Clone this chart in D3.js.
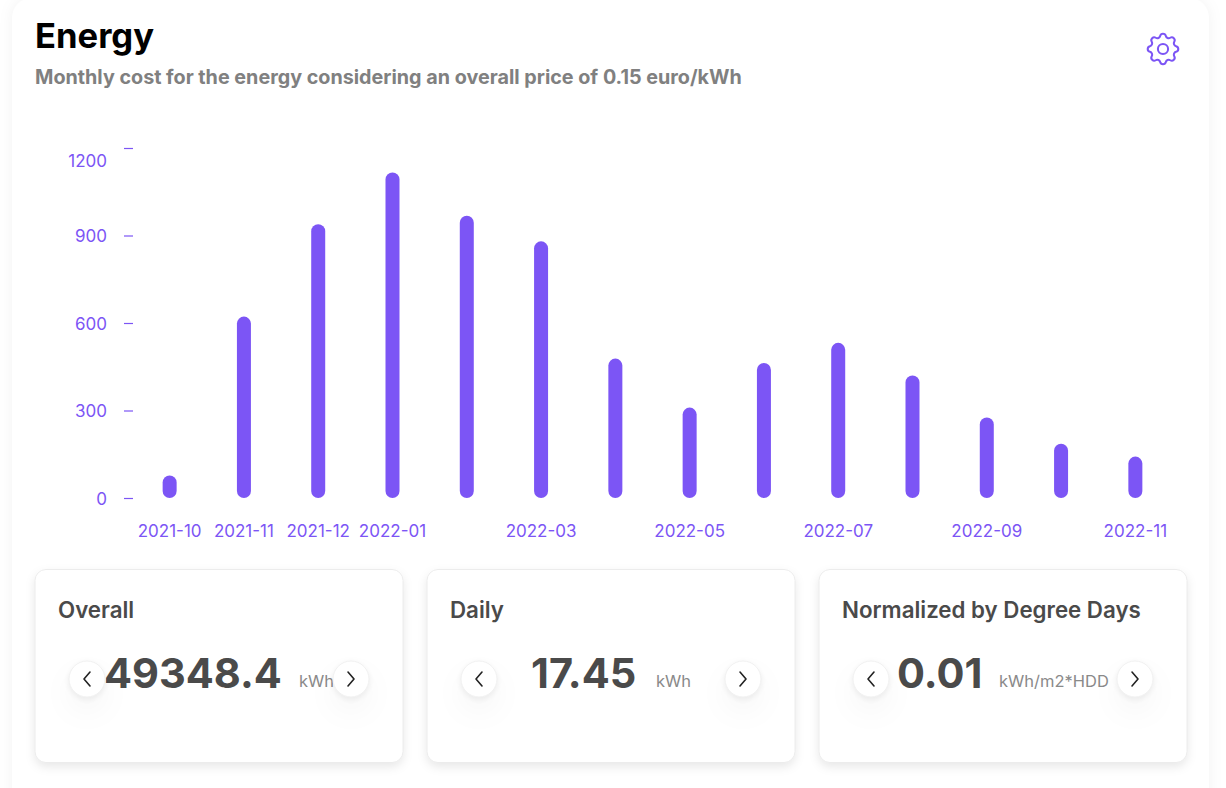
<!DOCTYPE html>
<html>
<head>
<meta charset="utf-8">
<script src="https://cdn.jsdelivr.net/npm/d3@7"></script>
<style>
  html, body { margin: 0; padding: 0; background: #fff; overflow: hidden; }
  text { font-family: Inter, "Noto Sans", sans-serif; }
  .panel { filter: drop-shadow(0 0 7px rgba(0,0,0,.05)); }
  .card { filter: drop-shadow(0 4px 5px rgba(0,0,0,.09)); }
  .nav { filter: drop-shadow(0 2px 3px rgba(0,0,0,.07)) drop-shadow(0 14px 14px rgba(0,0,0,.035)); }
  .axis text { fill: #7c55f5; font-size: 17px; }
  .axis line { stroke: #7c55f5; stroke-width: 1.2; }
  .axis path { display: none; }
</style>
</head>
<body>
<div id="chart"></div>
<script>
// values
var months = ["2021-10","2021-11","2021-12","2022-01","2022-02","2022-03","2022-04",
              "2022-05","2022-06","2022-07","2022-08","2022-09","2022-10","2022-11"];
var costs = [77, 622, 939, 1116, 968, 880, 478, 310, 463, 532, 420, 276, 186, 142];
var xTickLabels = ["2021-10","2021-11","2021-12","2022-01","2022-03","2022-05","2022-07","2022-09","2022-11"];
var yTickLabels = [0, 300, 600, 900, 1200];

var cardTitles = ["Overall", "Daily", "Normalized by Degree Days"];
var cardValues = ["49348.4", "17.45", "0.01"];
var cardUnits = ["kWh", "kWh", "kWh/m2*HDD"];

var purple = "#7c55f5";

var svg = d3.select("#chart").append("svg")
    .attr("width", 1226)
    .attr("height", 788)
    .style("display", "block");

// big white panel, runs off the bottom
svg.append("rect")
    .attr("class", "panel")
    .attr("x", 12).attr("y", -2)
    .attr("width", 1197).attr("height", 860)
    .attr("rx", 20)
    .attr("fill", "#fff");

svg.append("text")
    .attr("x", 35).attr("y", 48)
    .attr("font-size", 34.6).attr("font-weight", 700)
    .attr("fill", "#000")
    .text("Energy");

svg.append("text")
    .attr("x", 35).attr("y", 84)
    .attr("font-size", 19.74).attr("font-weight", 700)
    .attr("fill", "#808080")
    .text("Monthly cost for the energy considering an overall price of 0.15 euro/kWh");

// settings gear
var gear = svg.append("g")
    .attr("transform", "translate(1163,49) scale(1.7) translate(-12,-12)")
    .attr("fill", "none")
    .attr("stroke", purple)
    .attr("stroke-width", 1.2)
    .attr("stroke-linecap", "round")
    .attr("stroke-linejoin", "round");
gear.append("path")
    .attr("d", "M10.325 4.317c.426-1.756 2.924-1.756 3.35 0a1.724 1.724 0 002.573 1.066c1.543-.94 3.31.826 2.37 2.37a1.724 1.724 0 001.065 2.572c1.756.426 1.756 2.924 0 3.35a1.724 1.724 0 00-1.066 2.573c.94 1.543-.826 3.31-2.37 2.37a1.724 1.724 0 00-2.572 1.065c-.426 1.756-2.924 1.756-3.35 0a1.724 1.724 0 00-2.573-1.066c-1.543.94-3.31-.826-2.37-2.37a1.724 1.724 0 00-1.065-2.572c-1.756-.426-1.756-2.924 0-3.35a1.724 1.724 0 001.066-2.573c-.94-1.543.826-3.31 2.37-2.37.996.608 2.296.07 2.572-1.065z");
gear.append("circle").attr("cx", 12).attr("cy", 12).attr("r", 3);

// scales
var xScale = d3.scaleBand().domain(months).range([132.5, 1172.5]);
var yScale = d3.scaleLinear().domain([0, 1200]).range([498, 148]);

// y axis, the top label sits below its tick in the original
var leftAxis = d3.axisLeft(yScale)
    .tickValues(yTickLabels)
    .tickFormat(d3.format("d"))
    .tickSize(9)
    .tickPadding(17);
svg.append("g")
    .attr("class", "axis")
    .attr("transform", "translate(133,0)")
    .call(leftAxis)
    .selectAll("text")
    .attr("dy", d => d === 1200 ? "1.1em" : ".36em");

// x axis
var bottomAxis = d3.axisBottom(xScale)
    .tickValues(xTickLabels)
    .tickSize(0)
    .tickPadding(27);
svg.append("g")
    .attr("class", "axis")
    .attr("transform", "translate(0,498)")
    .call(bottomAxis);

// bars
svg.selectAll(".bar")
    .data(months)
    .enter()
    .append("rect")
    .attr("class", "bar")
    .attr("x", d => xScale(d) + xScale.bandwidth() / 2 - 7)
    .attr("y", (d, i) => yScale(costs[i]))
    .attr("width", 14)
    .attr("height", (d, i) => yScale(0) - yScale(costs[i]))
    .attr("rx", 7)
    .attr("fill", purple);

// the three cards below the chart
var cardX = d3.scaleBand().domain(cardTitles).range([34.5, 1210.5]);
var cardW = 368;
var valueX = [104, 531, 897];
var unitX = [299, 656, 999];

cardTitles.forEach(function(title, i) {
    var g = svg.append("g").attr("transform", `translate(${cardX(title)},569)`);
    g.append("rect")
        .attr("class", "card")
        .attr("x", 0.5).attr("y", 0.5)
        .attr("width", cardW).attr("height", 193)
        .attr("rx", 11)
        .attr("fill", "#fff")
        .attr("stroke", "#ececec");
    g.append("text")
        .attr("x", 23.5).attr("y", 49)
        .attr("font-size", 22.3).attr("font-weight", 600)
        .attr("fill", "#4a4a4a")
        .text(title);
    g.append("text")
        .attr("x", valueX[i] - cardX(title)).attr("y", 119)
        .attr("font-size", 41.5).attr("font-weight", 700)
        .attr("fill", "#4a4a4a")
        .text(cardValues[i]);
    g.append("text")
        .attr("x", unitX[i] - cardX(title)).attr("y", 118)
        .attr("font-size", 16.5).attr("fill", "#8a8a8a")
        .text(cardUnits[i]);

    // prev / next buttons
    [[52.5, "M3 -7 L-3 0 L3 7"], [316.5, "M-3 -7 L3 0 L-3 7"]].forEach(function(b) {
        var btn = g.append("g").attr("transform", `translate(${b[0]},110)`);
        btn.append("circle")
            .attr("class", "nav")
            .attr("r", 18)
            .attr("fill", "#fff")
            .attr("stroke", "#f0f0f0");
        btn.append("path")
            .attr("d", b[1])
            .attr("fill", "none")
            .attr("stroke", "#222")
            .attr("stroke-width", 1.6)
            .attr("stroke-linecap", "round")
            .attr("stroke-linejoin", "round");
    });
});
</script>
</body>
</html>
